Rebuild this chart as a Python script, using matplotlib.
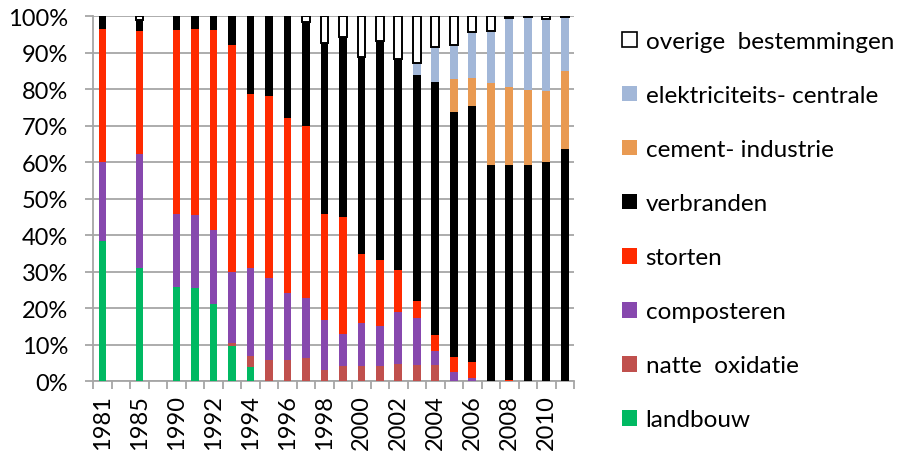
import matplotlib
matplotlib.use("Agg")
import matplotlib.pyplot as plt
import matplotlib.ticker as mticker
from matplotlib.patches import Patch
import numpy as np

plt.rcParams["font.family"] = ["Lato", "DejaVu Sans"]

# ── Data (percent of total per year; blank categories have no bar) ──
YEARS = ["1981", "", "1985", "", "1990", "1991", "1992", "1993", "1994", "1995",
         "1996", "1997", "1998", "1999", "2000", "2001", "2002", "2003", "2004",
         "2005", "2006", "2007", "2008", "2009", "2010", "2011"]

landbouw    = [38.5, 0, 31.0, 0, 25.9, 25.5, 21.2, 9.8, 4.0, 0, 0, 0, 0, 0, 0, 0, 0, 0, 0,
               0, 0, 0, 0, 0, 0, 0]
natte_ox    = [0, 0, 0, 0, 0, 0, 0, 0.7, 2.8, 5.9, 5.8, 6.4, 3.2, 4.1, 4.1, 4.1, 4.7, 4.5, 4.5,
               0, 0, 0, 0, 0, 0, 0]
composteren = [21.7, 0, 31.3, 0, 19.9, 20.1, 20.3, 19.4, 24.2, 22.3, 18.3, 16.3, 13.7, 8.9,
               11.8, 11.1, 14.4, 12.8, 3.7, 2.6, 1.0, 0, 0, 0, 0, 0]
storten     = [36.3, 0, 33.7, 0, 50.4, 50.9, 54.7, 62.2, 47.7, 50.0, 48.0, 47.3, 28.9, 31.9,
               19.0, 18.1, 11.4, 4.6, 4.6, 4.0, 4.2, 0, 0.3, 0, 0, 0]
verbranden  = [3.5, 0, 3.0, 0, 3.8, 3.5, 3.8, 7.9, 21.3, 21.8, 27.9, 28.4, 46.8, 49.5,
               53.9, 59.9, 57.8, 62.0, 69.1, 67.1, 70.1, 59.3, 59.0, 59.3, 60.0, 63.6]
cement      = [0, 0, 0, 0, 0, 0, 0, 0, 0, 0, 0, 0, 0, 0, 0, 0, 0, 0, 0,
               9.1, 7.8, 22.4, 21.2, 20.6, 19.4, 21.3]
elektr      = [0, 0, 0, 0, 0, 0, 0, 0, 0, 0, 0, 0, 0, 0, 0, 0, 0, 3.3, 9.8,
               9.4, 12.5, 14.2, 19.0, 19.8, 19.9, 14.8]
overige     = [0, 0, 1.0, 0, 0, 0, 0, 0, 0, 0, 0, 1.6, 7.4, 5.6, 11.2, 6.8, 11.7, 12.8, 8.3,
               7.8, 4.4, 4.1, 0.5, 0.3, 0.7, 0.3]

SERIES = [
    ("landbouw",              landbouw,    "#00B962", None),
    ("natte  oxidatie",       natte_ox,    "#C0504D", None),
    ("composteren",           composteren, "#8748AE", None),
    ("storten",               storten,     "#FF2A00", None),
    ("verbranden",            verbranden,  "#000000", None),
    ("cement- industrie",     cement,      "#E99A52", None),
    ("elektriciteits- centrale", elektr,   "#A2B7D8", None),
    ("overige  bestemmingen", overige,     "#FFFFFF", "#000000"),
]

fig = plt.figure(figsize=(9.01, 4.52), dpi=100)
ax = fig.add_axes([93.3 / 901, 1 - 382.3 / 452, (574 - 93.3) / 901, (382.3 - 17.3) / 452])

x = np.arange(len(YEARS))
bottom = np.zeros(len(YEARS))
handles = []
for name, vals, col, edge in SERIES:
    v = np.array(vals, dtype=float)
    mask = v > 0
    ax.bar(x[mask], v[mask], bottom=bottom[mask], width=0.42, color=col,
           edgecolor=edge if edge else col, linewidth=1.4 if edge else 0, zorder=3)
    bottom += v
    handles.append(Patch(facecolor=col, edgecolor=edge if edge else col,
                         linewidth=1.2 if edge else 0, label=name))

ax.set_xlim(-0.5, len(YEARS) - 0.5)
ax.set_ylim(0, 100)
ax.yaxis.set_major_locator(mticker.MultipleLocator(10))
ax.yaxis.set_major_formatter(mticker.FuncFormatter(lambda v, _: f"{v:.0f}%"))
ax.yaxis.grid(True, color="#A6A6A6", linewidth=1.3, zorder=0)
ax.set_axisbelow(True)

ax.set_xticks(x[::2])
ax.set_xticklabels(YEARS[::2], rotation=90, fontsize=17)
ax.set_xticks(np.arange(len(YEARS) + 1) - 0.5, minor=True)
ax.tick_params(axis="x", which="major", length=0, pad=9)
ax.tick_params(axis="x", which="minor", length=6, width=1.3, color="#A6A6A6")
ax.tick_params(axis="y", length=6, width=1.3, color="#A6A6A6", labelsize=17, pad=12)

for s in ["top", "right"]:
    ax.spines[s].set_visible(False)
for s in ["left", "bottom"]:
    ax.spines[s].set_color("#A6A6A6")
    ax.spines[s].set_linewidth(1.3)

fig.legend(handles=handles[::-1], loc="upper left", bbox_to_anchor=(622 / 901, 1 - 32 / 452),
           frameon=False, fontsize=17.5, labelspacing=1.36, handlelength=0.62,
           handleheight=0.62, handletextpad=0.35, borderpad=0, borderaxespad=0)

fig.savefig("out.png", dpi=100)
